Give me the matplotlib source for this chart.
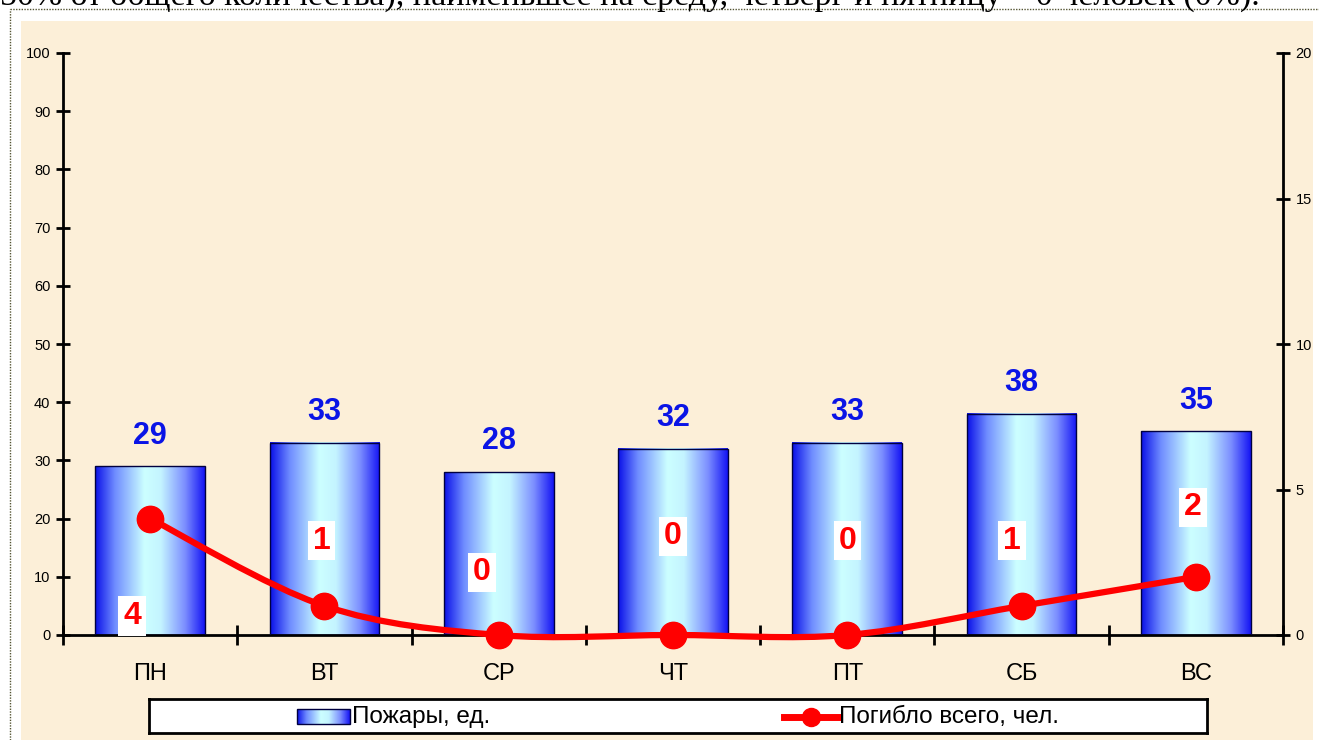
import numpy as np
import matplotlib
matplotlib.use("Agg")
import matplotlib.pyplot as plt
from matplotlib.colors import LinearSegmentedColormap
from matplotlib.path import Path
from matplotlib.patches import PathPatch, Rectangle
from matplotlib.lines import Line2D

# данные
days = ["ПН", "ВТ", "СР", "ЧТ", "ПТ", "СБ", "ВС"]
fires = [29, 33, 28, 32, 33, 38, 35]
deaths = [4, 1, 0, 0, 0, 1, 2]
# смещения подписей погибших (пт)
death_label_offsets = [(-13, -70), (-2, 47), (-12, 45), (0, 71), (0, 68), (-7, 47), (-2, 50)]

plt.rcParams['font.family'] = ['Liberation Sans', 'DejaVu Sans']

fig = plt.figure(figsize=(13.19, 7.4), dpi=100)
W, H = 1319, 740

# обрезанный текст документа сверху
fig.text(0.0, 1 - 5 / H, "50% от общего количества), наименьшее на среду, четверг и пятницу – 0 человек (0%).",
         family='Liberation Serif', fontsize=24.5, va='baseline', ha='left')

# фон "пергамент"
fig.patches.append(Rectangle((21 / W, 0), (1313 - 21) / W, (H - 21) / H, transform=fig.transFigure,
                             facecolor='#FCEFD8', edgecolor='none', zorder=-5))
fig.lines.append(Line2D([10 / W, 10 / W], [0, 1 - 9 / H], transform=fig.transFigure,
                        color='#555533', lw=1, ls=(0, (1, 1))))
fig.lines.append(Line2D([10 / W, 1], [1 - 9 / H, 1 - 9 / H], transform=fig.transFigure,
                        color='#555533', lw=1, ls=(0, (1, 1))))

ax = fig.add_axes([63 / W, 105 / H, 1220 / W, 582 / H])
ax.set_facecolor('none')
ax2 = ax.twinx()

grad = LinearSegmentedColormap.from_list('bar', [
    (0.0, '#0A10E8'), (0.18, '#6F8CFF'), (0.45, '#CCFFFF'),
    (0.6, '#C4F4FF'), (0.82, '#7C8EFF'), (1.0, '#1414F4')])
x = np.arange(len(days))
bw = 0.63
bars = ax.bar(x, fires, width=bw, color='none', edgecolor='#000040', linewidth=1, zorder=3)
gimg = np.linspace(0, 1, 256).reshape(1, -1)
for b in bars:
    x0, y0 = b.get_x(), b.get_y()
    ax.imshow(gimg, cmap=grad, aspect='auto', extent=(x0, x0 + b.get_width(), y0, y0 + b.get_height()),
              zorder=2, interpolation='bicubic')
for xi, v in zip(x, fires):
    ax.annotate(str(v), (xi, v), xytext=(0, 22), textcoords='offset points', ha='center', va='center',
                color='#0A14E6', fontsize=22, fontweight='bold')

ax.set_xlim(-0.5, len(days) - 0.5)
ax.set_ylim(0, 100)
ax.set_yticks(range(0, 101, 10))
ax.set_xticks(x)
ax.set_xticklabels(days, fontsize=17)
ax.set_xticks(np.arange(-0.5, len(days), 1), minor=True)
ax.tick_params(axis='x', which='major', length=0, pad=20)
ax.tick_params(axis='x', which='minor', direction='inout', length=14, width=2)
ax.tick_params(axis='y', direction='inout', length=10, width=2, labelsize=10.5, pad=4)
for s in ['top', 'right']:
    ax.spines[s].set_visible(False)
for s in ['left', 'bottom']:
    ax.spines[s].set_linewidth(2)

# сглаженная линия (Безье как в Excel)
px = x.astype(float)
py = np.array(deaths, dtype=float)
verts = [(px[0], py[0])]
codes = [Path.MOVETO]
n = len(px)
for i in range(n - 1):
    pm = (px[max(i - 1, 0)], py[max(i - 1, 0)])
    p2 = (px[min(i + 2, n - 1)], py[min(i + 2, n - 1)])
    c1 = (px[i] + (px[i + 1] - pm[0]) / 6, py[i] + (py[i + 1] - pm[1]) / 6)
    c2 = (px[i + 1] - (p2[0] - px[i]) / 6, py[i + 1] - (p2[1] - py[i]) / 6)
    verts += [c1, c2, (px[i + 1], py[i + 1])]
    codes += [Path.CURVE4] * 3
ax2.add_patch(PathPatch(Path(verts, codes), facecolor='none', edgecolor='#FF0000', lw=4.5,
                        zorder=4, clip_on=False, capstyle='round'))
ax2.plot(px, py, 'o', color='#FF0000', markersize=19, zorder=5, clip_on=False)
for xi, v, off in zip(px, deaths, death_label_offsets):
    ax2.annotate(str(v), (xi, v), xytext=off, textcoords='offset points', ha='center', va='center',
                 color='#FF0000', fontsize=23, fontweight='bold', zorder=6,
                 bbox=dict(boxstyle='square,pad=0.15', facecolor='white', edgecolor='none'))
ax2.set_ylim(0, 20)
ax2.set_yticks(range(0, 21, 5))
ax2.tick_params(axis='y', direction='inout', length=10, width=2, labelsize=10.5, pad=4)
for s in ['top', 'left', 'bottom']:
    ax2.spines[s].set_visible(False)
ax2.spines['right'].set_linewidth(2)

# легенда
lax = fig.add_axes([149 / W, (H - 733) / H, (1207 - 149) / W, 34 / H])
lax.set_xlim(149, 1207)
lax.set_ylim(0, 34)
lax.set_xticks([])
lax.set_yticks([])
for s in lax.spines.values():
    s.set_linewidth(2)
lax.imshow(gimg, cmap=grad, aspect='auto', extent=(297, 350, 9, 24), interpolation='bicubic')
lax.add_patch(Rectangle((297, 9), 53, 15, facecolor='none', edgecolor='#000040', lw=1))
lax.text(352, 16, "Пожары, ед.", fontsize=17.5, va='center', ha='left')
lax.plot([784, 838], [16, 16], color='#FF0000', lw=5)
lax.plot([811], [16], 'o', color='#FF0000', markersize=13)
lax.text(839, 16, "Погибло всего, чел.", fontsize=17.5, va='center', ha='left')

fig.savefig("out.png", dpi=100)
